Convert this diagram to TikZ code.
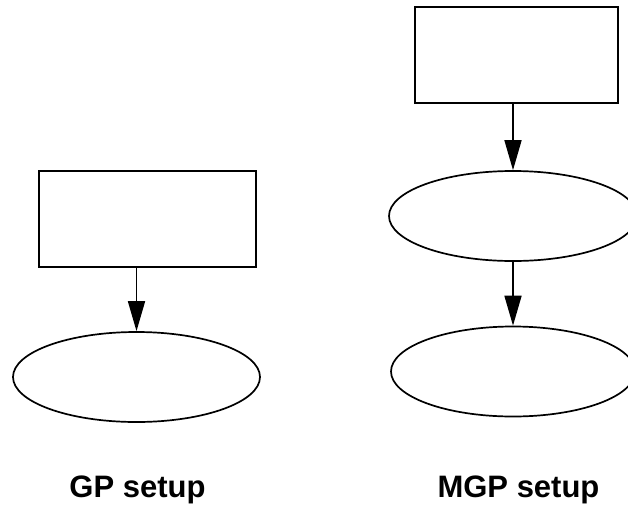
\documentclass[tikz,border=0pt]{standalone}
\usepackage{fontspec}
\setmainfont{Liberation Sans}
\usetikzlibrary{shapes.geometric,arrows.meta}
\tikzset{
  box/.style={draw=black, line width=1.7pt, rectangle, inner sep=0pt},
  oval/.style={draw=black, line width=1.7pt, ellipse, inner sep=0pt,
               minimum width=248pt, minimum height=90pt},
  link/.style={draw=black, line width=1.7pt,
               -{Triangle[length=30pt,width=17pt]}},
  caption/.style={font=\bfseries\fontsize{31}{37}\selectfont, inner sep=0pt, anchor=base}
}
\begin{document}
\begin{tikzpicture}[x=1pt,y=-1pt]
  \useasboundingbox (0,0) rectangle (628,506);
  \clip (0,0) rectangle (628,506);
  \fill[white] (0,0) rectangle (628,506);

  % GP setup
  \node[box, minimum width=217pt, minimum height=96pt] (gpbox) at (147.5,219) {};
  \node[oval, minimum width=247pt] (gpoval) at (136.5,377) {};
  \draw[link] (gpbox.south -| gpoval.north) -- (gpoval.north);
  \node[caption] (gplabel) at (137.5,497) {GP setup};

  % MGP setup
  \node[box, minimum width=203pt, minimum height=96pt] (mgpbox) at (516.5,55) {};
  \node[oval] (mgpovalA) at (513,216) {};
  \node[oval, minimum width=244pt] (mgpovalB) at (513,371.5) {};
  \draw[link] (mgpbox.south -| mgpovalA.north) -- (mgpovalA.north);
  \draw[link] (mgpovalA.south) -- (mgpovalB.north);
  \node[caption] (mgplabel) at (518.5,497) {MGP setup};
\end{tikzpicture}
\end{document}
